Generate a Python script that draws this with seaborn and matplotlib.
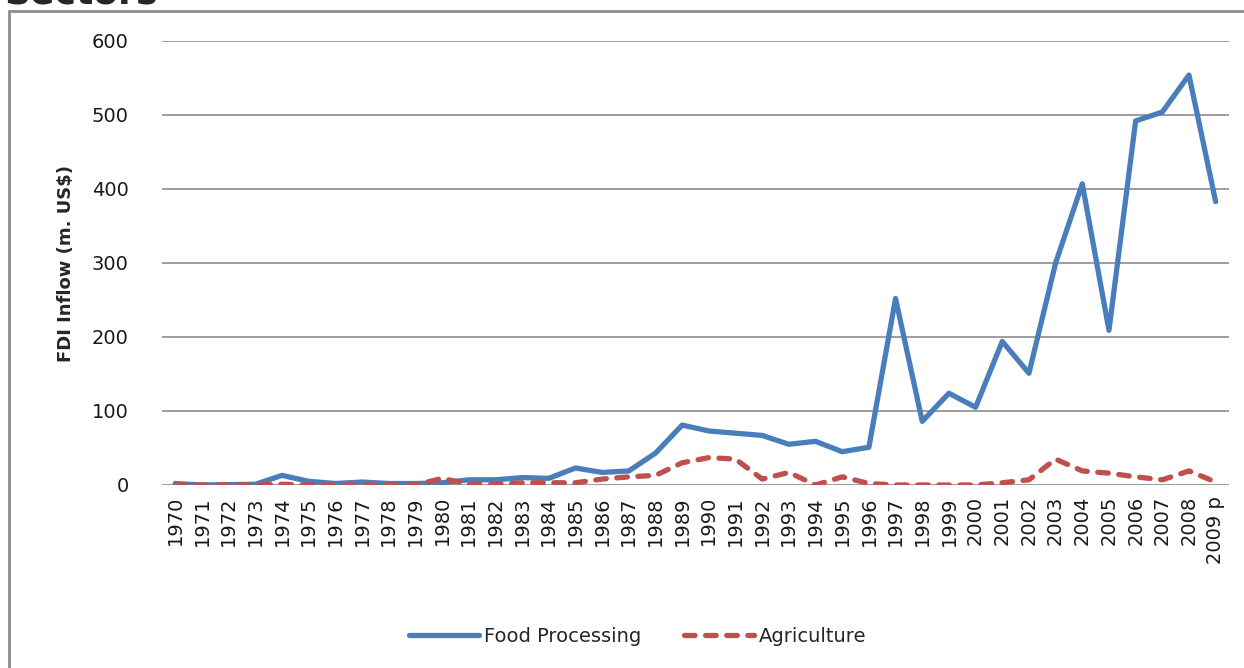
import numpy as np
import pandas as pd
import matplotlib
matplotlib.use("Agg")
import matplotlib.pyplot as plt
import matplotlib.patches as patches
import seaborn as sns

# data (FDI inflow, m. US$)
years = [str(y) for y in range(1970, 2009)] + ["2009 p"]
food_processing = [2, 0, 0.5, 1, 13, 5, 2, 4, 2, 2,
                   3, 7, 7, 10, 9, 23, 17, 19, 43, 81,
                   73, 70, 67, 55, 59, 45, 51, 252, 86, 124,
                   105, 194, 151, 300, 407, 209, 492, 504, 554, 383]
agriculture = [0, 0, 0, 0, 1, 0, 0, 0, 0, 0,
               9, 1, 1, 3, 3, 3, 8, 11, 13, 30,
               37, 35, 8, 17, 0, 11, 2, 0, 0, 0,
               0, 3, 7, 35, 19, 16, 11, 7, 19, 4]

df = pd.DataFrame({"pos": np.arange(len(years)), "Year": years,
                   "Food Processing": food_processing, "Agriculture": agriculture})

sns.set_theme(style="white")
plt.rcParams["font.family"] = ["DejaVu Sans"]

W, H = 1244, 668
fig = plt.figure(figsize=(W / 100, H / 100), dpi=100)
ax = fig.add_axes([162 / W, 1 - 485 / H, (1229 - 162) / W, (485 - 41) / H])

sns.lineplot(data=df, x="pos", y="Food Processing", ax=ax, color="#4A7EBB",
             linewidth=3.8, label="Food Processing", solid_capstyle="round")
sns.lineplot(data=df, x="pos", y="Agriculture", ax=ax, color="#C0504D",
             linewidth=3.8, label="Agriculture", dashes=(2.0, 2.0),
             dash_capstyle="round")

ax.set_xlim(-0.5, len(years) - 0.5)
ax.set_ylim(0, 600)
ax.set_yticks(range(0, 601, 100))
ax.set_xticks(df["pos"])
ax.set_xticklabels(years, rotation=90, fontsize=14, color="#1a1a1a")
ax.tick_params(axis="y", labelsize=14, labelcolor="#1a1a1a", length=0, pad=24)
ax.tick_params(axis="x", length=0, pad=8)
ax.yaxis.grid(True, color="#8c8c8c", linewidth=1.2)
ax.set_axisbelow(True)
for s in ax.spines.values():
    s.set_visible(False)
ax.set_xlabel("")
ax.set_ylabel("FDI Inflow (m. US$)", fontsize=13, fontweight="bold", labelpad=12)

ax.legend_.remove()
handles, labels = ax.get_legend_handles_labels()
fig.legend(handles, labels, loc="center", bbox_to_anchor=(638 / W, 1 - 636 / H),
           ncol=2, frameon=False, fontsize=14, handlelength=3.6,
           columnspacing=2.2, handletextpad=0.25)

# outer chart border (cut off at right/bottom) and clipped title
fig.patches.append(patches.Rectangle((9 / W, -0.1), 1.2, 1.1 - 11 / H,
                                     transform=fig.transFigure, fill=False,
                                     edgecolor="#8c8c8c", linewidth=2))
fig.text(4 / W, 1 - 3 / H, "Sectors", fontsize=26, fontweight="bold",
         va="baseline", ha="left")

fig.savefig("out.png", dpi=100)
